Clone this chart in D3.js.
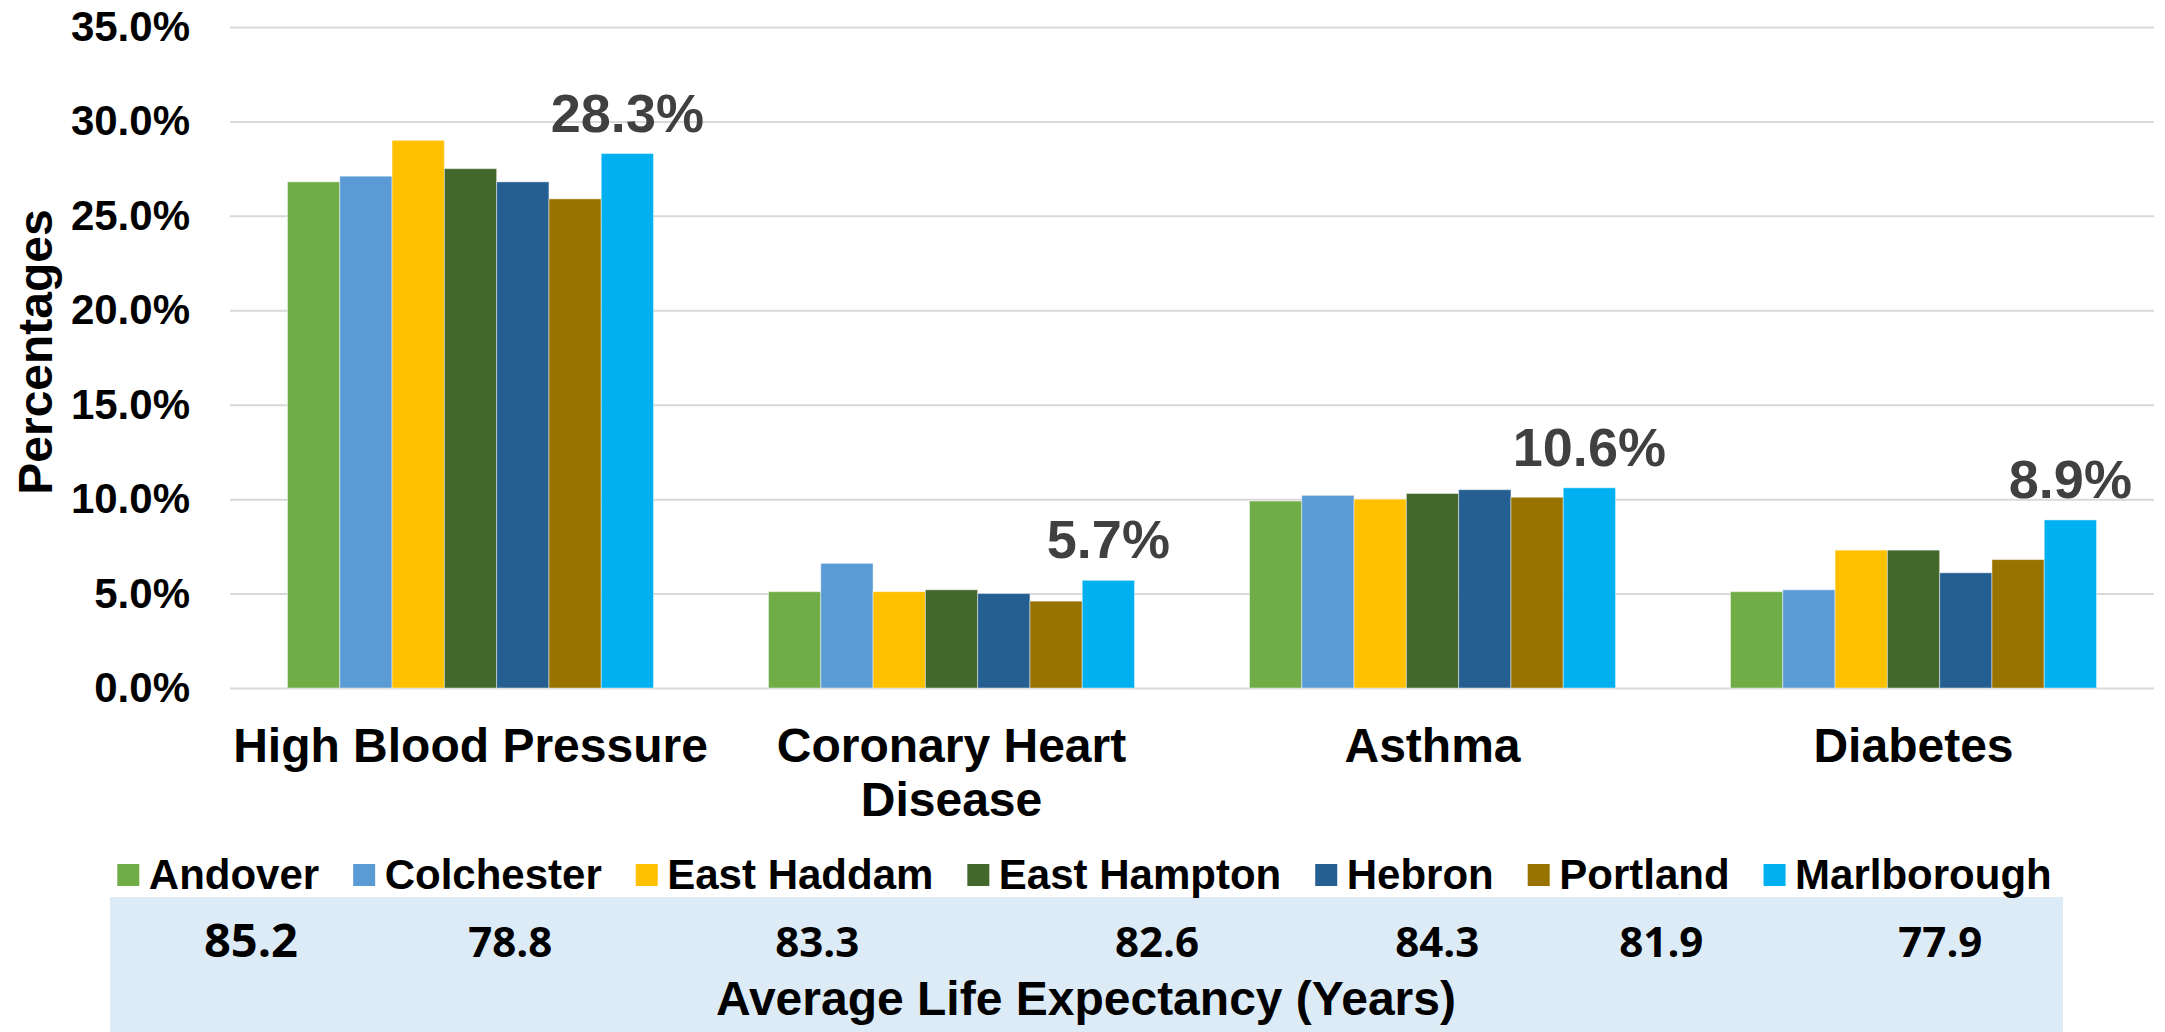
<!DOCTYPE html>
<html>
<head>
<meta charset="utf-8">
<script src="https://cdn.jsdelivr.net/npm/d3@7"></script>
<style>
  body { margin: 0; background: #fff; }
  text { font-family: "Liberation Sans", Arial, sans-serif; font-weight: bold; }
</style>
</head>
<body>
<script>
// Chart data
var categories = ["High Blood Pressure", "Coronary Heart Disease", "Asthma", "Diabetes"];
var towns = ["Andover", "Colchester", "East Haddam", "East Hampton", "Hebron", "Portland", "Marlborough"];
var andover     = [26.8, 5.1, 9.9, 5.1];
var colchester  = [27.1, 6.6, 10.2, 5.2];
var eastHaddam  = [29.0, 5.1, 10.0, 7.3];
var eastHampton = [27.5, 5.2, 10.3, 7.3];
var hebron      = [26.8, 5.0, 10.5, 6.1];
var portland    = [25.9, 4.6, 10.1, 6.8];
var marlborough = [28.3, 5.7, 10.6, 8.9];
var lifeExpectancy = [85.2, 78.8, 83.3, 82.6, 84.3, 81.9, 77.9];
var yTicks = [0, 5, 10, 15, 20, 25, 30, 35];
var labelledTown = "Marlborough";

var seriesValues = [andover, colchester, eastHaddam, eastHampton, hebron, portland, marlborough];
var colors = ["#70AD47", "#5B9BD5", "#FFC000", "#43682B", "#255E91", "#997300", "#00B0F0"];

// SVG area
var svgWidth = 2165;
var svgHeight = 1032;
var plot = { left: 230, right: 2154, top: 27, bottom: 688 };

var svg = d3.select("body")
  .append("svg")
  .attr("width", svgWidth)
  .attr("height", svgHeight);

// Scales
var x0 = d3.scaleBand()
  .domain(categories)
  .range([plot.left, plot.right])
  .paddingInner(0.239)
  .paddingOuter(0.1195);

var x1 = d3.scaleBand()
  .domain(towns)
  .range([0, x0.bandwidth()]);

var y = d3.scaleLinear()
  .domain([0, 35])
  .range([plot.bottom, plot.top]);

var color = d3.scaleOrdinal().domain(towns).range(colors);

// Gridlines
svg.append("g")
  .attr("transform", `translate(${plot.left}, 0)`)
  .call(d3.axisLeft(y).tickValues(yTicks).tickSize(-(plot.right - plot.left)).tickFormat(""))
  .call(g => g.select(".domain").remove())
  .call(g => g.selectAll("line").attr("stroke", "#D9D9D9").attr("stroke-width", 2));

// Y axis labels
svg.append("g")
  .attr("transform", `translate(${plot.left}, 0)`)
  .call(d3.axisLeft(y).tickValues(yTicks).tickSize(0).tickPadding(40)
    .tickFormat(d => d.toFixed(1) + "%"))
  .call(g => g.select(".domain").remove())
  .call(g => g.selectAll("text")
    .attr("font-size", "42px")
    .attr("fill", "#000")
    .style("font-family", '"Liberation Sans", Arial, sans-serif'));

// Y axis title
svg.append("text")
  .attr("transform", "rotate(-90)")
  .attr("x", -352)
  .attr("y", 52)
  .attr("text-anchor", "middle")
  .attr("font-size", "48px")
  .text("Percentages");

// Bars
var rows = categories.map((c, i) => ({
  category: c,
  values: towns.map((t, j) => ({ town: t, value: seriesValues[j][i] }))
}));

var groups = svg.selectAll(".cat")
  .data(rows)
  .enter()
  .append("g")
  .attr("class", "cat")
  .attr("transform", d => `translate(${x0(d.category)}, 0)`);

groups.selectAll("rect")
  .data(d => d.values)
  .enter()
  .append("rect")
  .attr("x", d => x1(d.town))
  .attr("y", d => y(d.value))
  .attr("width", x1.bandwidth())
  .attr("height", d => y(0) - y(d.value))
  .attr("fill", d => color(d.town))
  .attr("stroke", "rgba(255,255,255,0.45)")
  .attr("stroke-width", 1);

// Data labels (Marlborough only)
groups.selectAll(".lbl")
  .data(d => d.values.filter(v => v.town === labelledTown))
  .enter()
  .append("text")
  .attr("class", "lbl")
  .attr("x", d => x1(d.town) + x1.bandwidth() / 2)
  .attr("y", d => y(d.value) - 22)
  .attr("text-anchor", "middle")
  .attr("font-size", "54px")
  .attr("fill", "#404040")
  .text(d => d.value.toFixed(1) + "%");

// Category axis
svg.append("g")
  .attr("transform", `translate(0, ${plot.bottom})`)
  .call(d3.axisBottom(x0).tickSize(0).tickPadding(0))
  .call(g => g.select(".domain").remove())
  .call(g => g.selectAll("text")
    .attr("font-size", "48px")
    .attr("fill", "#000")
    .attr("y", 74)
    .attr("dy", 0)
    .style("font-family", '"Liberation Sans", Arial, sans-serif')
    .call(wrap, x0.step()));

function wrap(text, width) {
  text.each(function() {
    var t = d3.select(this);
    var words = t.text().split(/\s+/);
    var yy = t.attr("y");
    var line = [];
    var lineNo = 0;
    var tspan = t.text(null).append("tspan").attr("x", 0).attr("y", yy).attr("dy", 0);
    words.forEach(function(w) {
      line.push(w);
      tspan.text(line.join(" "));
      if (tspan.node().getComputedTextLength() > width && line.length > 1) {
        line.pop();
        tspan.text(line.join(" "));
        line = [w];
        lineNo++;
        tspan = t.append("tspan").attr("x", 0).attr("y", yy).attr("dy", lineNo * 54).text(w);
      }
    });
  });
}

// Life expectancy table background
svg.append("rect")
  .attr("x", 110)
  .attr("y", 897)
  .attr("width", 1953)
  .attr("height", svgHeight - 897)
  .attr("fill", "#DDEBF7");

// Legend
var legend = svg.append("g").attr("class", "legend");
var lx = 0;
var textCenters = [];
towns.forEach(function(t, i) {
  var item = legend.append("g").attr("transform", `translate(${lx}, 0)`);
  item.append("rect")
    .attr("x", 0).attr("y", 864)
    .attr("width", 22).attr("height", 22)
    .attr("fill", color(t));
  var txt = item.append("text")
    .attr("x", 31.5).attr("y", 889)
    .attr("font-size", "42px")
    .text(t);
  var w = txt.node().getComputedTextLength();
  textCenters.push(lx + 31.5 + w / 2);
  lx += 31.5 + w + 34;
});
var legendWidth = lx - 34;
var legendStart = 1084.5 - legendWidth / 2;
legend.attr("transform", `translate(${legendStart}, 0)`);

// Life expectancy values
svg.selectAll(".life")
  .data(lifeExpectancy)
  .enter()
  .append("text")
  .attr("class", "life")
  .attr("x", (d, i) => legendStart + textCenters[i] + 17)
  .attr("y", 957)
  .attr("text-anchor", "middle")
  .attr("font-size", (d, i) => i === 0 ? "47px" : "42px")
  .style("font-family", '"Open Sans", "Noto Sans", sans-serif')
  .text(d => d.toFixed(1));

svg.append("text")
  .attr("x", 1086)
  .attr("y", 1015)
  .attr("text-anchor", "middle")
  .attr("font-size", "48px")
  .text("Average Life Expectancy (Years)");
</script>
</body>
</html>
